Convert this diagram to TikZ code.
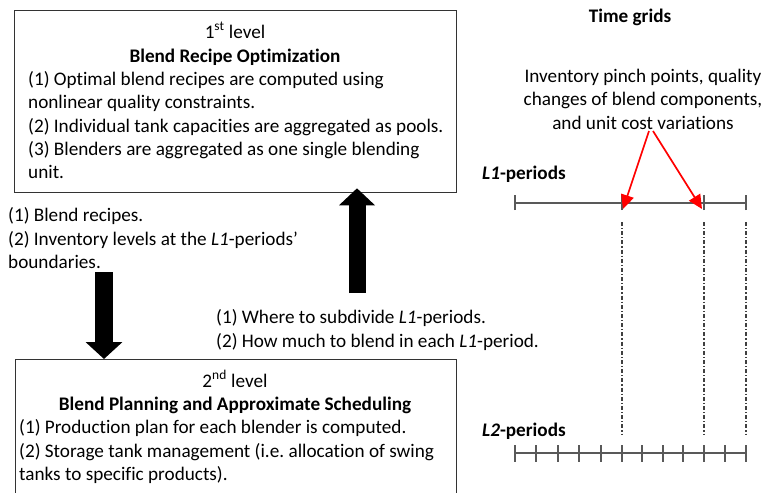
\documentclass[tikz,border=0pt]{standalone}
\usepackage{fontspec}
\setmainfont{Carlito}[Ligatures={NoCommon}]
\usetikzlibrary{arrows.meta}
\frenchspacing
\begin{document}
\begin{tikzpicture}[x=1pt,y=-1pt,
  txt/.style={anchor=base west,inner sep=0pt,font=\fontsize{19.2}{23}\selectfont},
  ctxt/.style={anchor=base,inner sep=0pt,font=\fontsize{19.2}{23}\selectfont},
  levelbox/.style={draw=black!80,line width=1.3pt},
  blockarrow/.style={draw=black,line width=18pt,-{Triangle[width=36pt,length=17pt]}},
  tline/.style={draw=black!65,line width=1.2pt},
  dd/.style={draw=black!75,line width=1.1pt,dash pattern=on 4pt off 2pt on 1.2pt off 2pt},
  redarrow/.style={draw=red,line width=1.7pt,-{Triangle[width=13pt,length=14pt]}}]
\useasboundingbox (0,0) rectangle (761,493);
\fill[white] (0,0) rectangle (761,493);
% boxes
\node[levelbox,anchor=north west,minimum width=442pt,minimum height=182pt,inner sep=0pt] (box1) at (14,10) {};
\node[levelbox,anchor=north west,minimum width=441pt,minimum height=150pt,inner sep=0pt] (box2) at (15,359) {};
% box 1 text
\node[ctxt] (b1a) at (235,38) {1\textsuperscript{st} level};
\node[ctxt] (b1b) at (235,62) {\textbf{Blend Recipe Optimization}};
\node[txt] (b1c) at (28,85) {(1) Optimal blend recipes are computed using};
\node[txt] (b1d) at (28,108.5) {nonlinear quality constraints.};
\node[txt] (b1e) at (28,132) {(2) Individual tank capacities are aggregated as pools.};
\node[txt] (b1f) at (28,155) {(3) Blenders are aggregated as one single blending};
\node[txt] (b1g) at (28,178.5) {unit.};
% box 2 text
\node[ctxt] (b2a) at (235,387) {2\textsuperscript{nd} level};
\node[ctxt] (b2b) at (235,410) {\textbf{Blend Planning and Approximate Scheduling}};
\node[txt] (b2c) at (19,433.5) {(1) Production plan for each blender is computed.};
\node[txt] (b2d) at (19,457) {(2) Storage tank management (i.e. allocation of swing};
\node[txt] (b2e) at (19,480) {tanks to specific products).};
% left labels
\node[txt] (l1) at (8,221) {(1) Blend recipes.};
\node[txt] (l2) at (8,245) {(2) Inventory levels at the \textit{L1}-periods'};
\node[txt] (l3) at (8,268) {boundaries.};
% middle labels
\node[txt] (m1) at (216,323) {(1) Where to subdivide \textit{L1}-periods.};
\node[txt] (m2) at (216,347) {(2) How much to blend in each \textit{L1}-period.};
% block arrows
\coordinate (dstart) at (104,272);
\coordinate (ustart) at (357,293);
\draw[blockarrow] (dstart) -- (box2.north -| dstart);
\draw[blockarrow,line width=17pt,-{Triangle[width=35pt,length=17pt]}] (ustart) -- ([yshift=5pt]box1.south -| ustart);
% right side
\node[ctxt] (tg) at (630,22) {\textbf{Time grids}};
\node[ctxt] (ip1) at (643,82) {Inventory pinch points, quality};
\node[ctxt] (ip2) at (643,105.5) {changes of blend components,};
\node[ctxt] (ip3) at (643,129) {and unit cost variations};
\node[txt] (L1lab) at (482,179.5) {\textbf{\textit{L1}-periods}};
\node[txt] (L2lab) at (482,436) {\textbf{\textit{L2}-periods}};
% L1 time line
\coordinate (a0) at (515,203);
\coordinate (a1) at (622,203);
\coordinate (a2) at (704,203);
\coordinate (a3) at (746,203);
\draw[tline] (a0) -- (a3);
\foreach \p in {a0,a1,a2,a3} \draw[tline] ([yshift=-7pt]\p) -- ([yshift=8pt]\p);
% L2 time line
\coordinate (c0) at (515,453);
\coordinate (c1) at (746,453);
\draw[tline] (c0) -- (c1);
\foreach \x in {515,536,558,579,601,622,642,663,683,704,725,746}
  \draw[tline] (\x,445) -- (\x,462);
% dash-dot verticals
\foreach \x in {622,704,746} \draw[dd] (\x,222) -- (\x,435);
% red arrows
\coordinate (r1) at (649,131);
\coordinate (r2) at (653,131);
\draw[redarrow] (r1) -- ([xshift=1pt,yshift=-6pt]a1);
\draw[redarrow] (r2) -- ([xshift=-2pt,yshift=-6pt]a2);
\end{tikzpicture}
\end{document}
